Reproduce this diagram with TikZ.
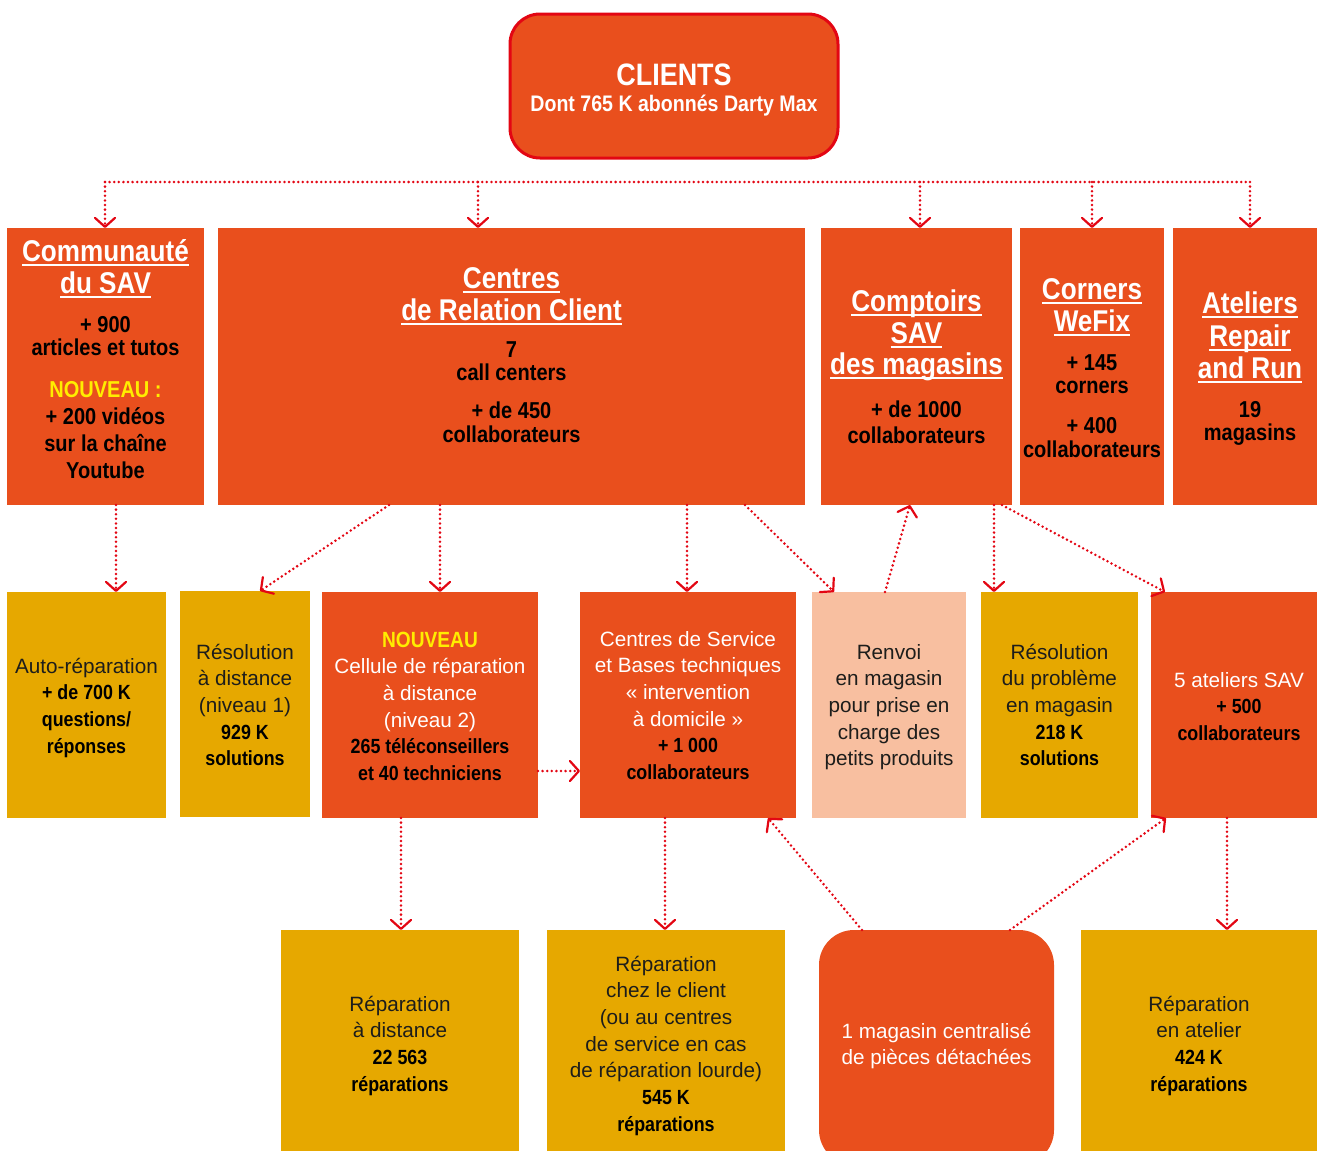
\documentclass[tikz,border=0pt]{standalone}
\usepackage{fontspec}
\setmainfont{Liberation Sans}
\newfontfamily\bcf[FakeStretch=0.87]{Liberation Sans}
\usetikzlibrary{arrows.meta}
\definecolor{org}{HTML}{E94F1D}
\definecolor{gld}{HTML}{E6A800}
\definecolor{pch}{HTML}{F8BFA0}
\definecolor{rdl}{HTML}{E30613}
\definecolor{ylw}{HTML}{FFED00}
\definecolor{ink}{HTML}{1D1D1B}
\newcommand\Tf{\bcf\bfseries\fontsize{30}{32}\selectfont}
\newcommand\Bf{\bcf\bfseries\fontsize{23}{23}\selectfont}
\newcommand\Mf{\bcf\bfseries\fontsize{20.5}{26.7}\selectfont}
\newcommand\Lf{\normalfont\fontsize{20.7}{26.7}\selectfont}
\newsavebox\ulbox
\newcommand\uln[1]{\leavevmode\sbox\ulbox{#1}\rlap{\vrule height -3pt depth 5pt width \wd\ulbox}\usebox\ulbox}
\newcommand\blk[1]{\vtop{\hsize=400pt\centering\lineskiplimit=-1000pt\lineskip=0pt\parskip=0pt\parindent=0pt\leavevmode #1\par}}
\begin{document}
\begin{tikzpicture}[x=1pt,y=-1pt,
  bx/.style={inner sep=0pt, outer sep=0pt, anchor=north west, draw=none},
  tx/.style={inner sep=0pt, outer sep=0pt, anchor=base},
  dotl/.style={draw=rdl, line width=2.8pt, dash pattern=on 0pt off 4.6pt, line cap=round},
  conn/.style={dotl, -{Straight Barb[length=9pt,width=20pt,line width=2.2pt,round]}}]
\useasboundingbox (0,0) rectangle (1317,1151);
% boxes
\node[bx, fill=org, draw=rdl, line width=3pt, rounded corners=30pt, minimum width=328pt, minimum height=144pt] (clients) at (510,14) {};
\node[bx, fill=org, minimum width=197pt, minimum height=277pt] (comm) at (7,228) {};
\node[bx, fill=org, minimum width=587pt, minimum height=277pt] (crc) at (218,228) {};
\node[bx, fill=org, minimum width=191pt, minimum height=277pt] (cmp) at (821,228) {};
\node[bx, fill=org, minimum width=144pt, minimum height=277pt] (cor) at (1020,228) {};
\node[bx, fill=org, minimum width=154pt, minimum height=277pt] (ate) at (1173,228) {};
\node[bx, fill=gld, minimum width=159pt, minimum height=226pt] (auto) at (7,592) {};
\node[bx, fill=gld, minimum width=130pt, minimum height=226pt] (res1) at (180,591) {};
\node[bx, fill=org, minimum width=216pt, minimum height=226pt] (cell) at (322,592) {};
\node[bx, fill=org, minimum width=216pt, minimum height=226pt] (csv) at (580,592) {};
\node[bx, fill=pch, minimum width=154pt, minimum height=226pt] (ren) at (812,592) {};
\node[bx, fill=gld, minimum width=157pt, minimum height=226pt] (res2) at (981,592) {};
\node[bx, fill=org, minimum width=176pt, minimum height=226pt] (ate5) at (1151,592) {};
\node[bx, fill=gld, minimum width=238pt, minimum height=230pt] (rd) at (281,930) {};
\node[bx, fill=gld, minimum width=238pt, minimum height=230pt] (rc) at (547,930) {};
\node[bx, fill=org, rounded corners=35pt, minimum width=235pt, minimum height=235pt] (mag) at (819,930) {};
\node[bx, fill=gld, minimum width=236pt, minimum height=230pt] (ra) at (1081,930) {};
% top bus
\foreach \n/\x in {comm/105,crc/478,cmp/920,cor/1092,ate/1250}{
  \coordinate (d\n) at (\x,182);
  \draw[conn] (d\n) -- (d\n |- \n.north);
}
\draw[dotl] (dcomm) -- (date);
% connectors
\draw[conn] ([xshift=109pt]comm.south west) -- ([xshift=109pt]auto.north west);
\draw[conn] ([xshift=171pt]crc.south west) -- ([xshift=80pt]res1.north west);
\draw[conn] ([xshift=222pt]crc.south west) -- ([xshift=118pt]cell.north west);
\draw[conn] ([yshift=-66pt]cell.east) -- ([yshift=-66pt]csv.west);
\draw[conn] ([xshift=469pt]crc.south west) -- ([xshift=107pt]csv.north west);
\draw[conn] ([xshift=527pt]crc.south west) -- ([xshift=22pt]ren.north west);
\draw[conn] ([xshift=73pt]ren.north west) -- ([xshift=89pt]cmp.south west);
\draw[conn] ([xshift=173pt]cmp.south west) -- ([xshift=13pt]res2.north west);
\draw[conn] ([xshift=181pt]cmp.south west) -- ([xshift=14pt]ate5.north west);
\draw[conn] ([xshift=43pt]mag.north west) -- ([xshift=188pt]csv.south west);
\draw[conn] ([xshift=191pt]mag.north west) -- ([xshift=15pt]ate5.south west);
\draw[conn] ([xshift=79pt]cell.south west) -- ([xshift=120pt]rd.north west);
\draw[conn] ([xshift=85pt]csv.south west) -- ([xshift=118pt]rc.north west);
\draw[conn] ([xshift=76pt]ate5.south west) -- ([xshift=146pt]ra.north west);
% texts
\node[tx] (clientsT) at (674,85) {\blk{\bcf\bfseries\fontsize{31}{31}\selectfont\color{white}CLIENTS\\\fontsize{22.5}{26}\selectfont Dont 765 K abonnés Darty Max}};
\node[tx] (commT) at (105.5,261) {\blk{\Tf\color{white}\uln{Communauté}\\\uln{du SAV}\\[16pt]\Bf\color{black}+ 900\\articles et tutos\\[19pt]\color{ylw}NOUVEAU :\\[4pt]\color{black}+ 200 vidéos\\[4pt]sur la chaîne\\[4pt]Youtube}};
\node[tx] (crcT) at (511.5,288) {\blk{\Tf\color{white}\uln{Centres}\\\uln{de Relation Client}\\[14pt]\Bf\color{black}7\\call centers\\[15pt]+ de 450\\[1pt]collaborateurs}};
\node[tx] (cmpT) at (916.5,311) {\blk{\Tf\color{white}\uln{Comptoirs}\\\uln{SAV}\\[-1pt]\uln{des magasins}\\[20pt]\Bf\color{black}+ de 1000\\[3pt]collaborateurs}};
\node[tx] (corT) at (1092,299) {\blk{\Tf\color{white}\uln{Corners}\\\uln{WeFix}\\[16pt]\Bf\color{black}+ 145\\corners\\[17pt]+ 400\\[1pt]collaborateurs}};
\node[tx] (ateT) at (1250,313) {\blk{\Tf\color{white}\uln{Ateliers}\\[1pt]\uln{Repair}\\\uln{and Run}\\[16pt]\Bf\color{black}19\\magasins}};
\node[tx] (autoT) at (86.5,673) {\blk{\Lf\color{ink}Auto-réparation\\\Mf\color{black}+ de 700 K\\questions/\\réponses}};
\node[tx] (res1T) at (245,659) {\blk{\Lf\color{ink}Résolution\\à distance\\(niveau 1)\\\Mf\color{black}929 K\\solutions}};
\node[tx] (cellT) at (430,647) {\blk{\bcf\bfseries\fontsize{22}{26.7}\selectfont\color{ylw}NOUVEAU\\\Lf\color{white}Cellule de réparation\\à distance\\(niveau 2)\\\Mf\color{black}265 téléconseillers\\et 40 techniciens}};
\node[tx] (csvT) at (688,646) {\blk{\Lf\color{white}Centres de Service\\et Bases techniques\\« intervention\\à domicile »\\\Mf\color{black}+ 1 000\\collaborateurs}};
\node[tx] (renT) at (889,659) {\blk{\Lf\color{ink}Renvoi\\en magasin\\pour prise en\\charge des\\petits produits}};
\node[tx] (res2T) at (1059.5,659) {\blk{\Lf\color{ink}Résolution\\du problème\\en magasin\\\Mf\color{black}218 K\\solutions}};
\node[tx] (ate5T) at (1239,687) {\blk{\Lf\color{white}5 ateliers SAV\\\Mf\color{black}+ 500\\collaborateurs}};
\node[tx] (rdT) at (400,1011) {\blk{\Lf\color{ink}Réparation\\à distance\\\Mf\color{black}22 563\\réparations}};
\node[tx] (rcT) at (666,971) {\blk{\Lf\color{ink}Réparation\\chez le client\\(ou au centres\\de service en cas\\de réparation lourde)\\\Mf\color{black}545 K\\réparations}};
\node[tx] (magT) at (936.5,1038) {\blk{\Lf\color{white}1 magasin centralisé\\de pièces détachées}};
\node[tx] (raT) at (1199,1011) {\blk{\Lf\color{ink}Réparation\\en atelier\\\Mf\color{black}424 K\\réparations}};
\end{tikzpicture}
\end{document}
